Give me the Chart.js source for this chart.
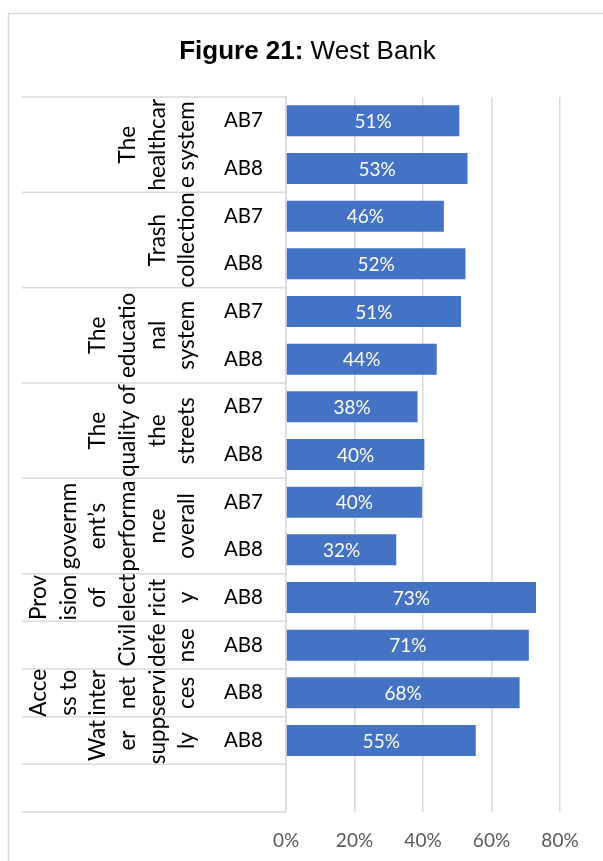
<!DOCTYPE html>
<html>
<head>
<meta charset="utf-8">
<script src="https://cdn.jsdelivr.net/npm/chart.js@4/dist/chart.umd.min.js"></script>
<style>
  html, body { margin: 0; padding: 0; background: #ffffff; }
  #wrap { position: relative; width: 603px; height: 861px; }
  canvas { display: block; }
</style>
</head>
<body>
<div id="wrap"><canvas id="c" width="603" height="861"></canvas></div>
<script>
// ---------- data ----------
const titleBold = 'Figure 21:';
const titleRest = ' West Bank';
const subLabels = ['AB7','AB8','AB7','AB8','AB7','AB8','AB7','AB8','AB7','AB8','AB8','AB8','AB8','AB8',''];
const values = [50.6, 53.0, 46.1, 52.4, 51.1, 44.0, 38.4, 40.4, 39.7, 32.2, 73.0, 70.9, 68.2, 55.4, null];
const groupSizes = [2, 2, 2, 2, 2, 1, 1, 1, 1, 1];
const groupLines = [
  ['The', 'healthcar', 'e system'],
  ['Trash', 'collection'],
  ['The', 'educatio', 'nal', 'system'],
  ['The', 'quality of', 'the', 'streets'],
  ['governm', 'ent\u2019s', 'performa', 'nce', 'overall'],
  ['Prov', 'ision', 'of', 'elect', 'ricit', 'y'],
  ['Civil', 'defe', 'nse'],
  ['Acce', 'ss to', 'inter', 'net', 'servi', 'ces'],
  ['Wat', 'er', 'supp', 'ly'],
  []
];
const xTicks = [0, 20, 40, 60, 80];

// ---------- style ----------
const LABEL_FONT = 'Lato, "Noto Sans", sans-serif';
const GRID = '#d9d9d9';
const BAR = '#4472C4';

const tablePlugin = {
  id: 'tablePlugin',
  beforeDraw(chart) {
    const ctx = chart.ctx;
    ctx.save();
    // chart frame
    ctx.strokeStyle = GRID;
    ctx.lineWidth = 1.5;
    ctx.beginPath();
    ctx.moveTo(8.5, 900);
    ctx.lineTo(8.5, 13.5);
    ctx.lineTo(700, 13.5);
    ctx.stroke();
    // title
    ctx.fillStyle = '#000000';
    ctx.textBaseline = 'alphabetic';
    ctx.font = 'bold 26px "Liberation Sans", Arial, sans-serif';
    const w1 = ctx.measureText(titleBold).width;
    ctx.font = '26px "Liberation Sans", Arial, sans-serif';
    const w2 = ctx.measureText(titleRest).width;
    const x0 = 307.5 - (w1 + w2) / 2;
    ctx.textAlign = 'left';
    ctx.font = 'bold 26px "Liberation Sans", Arial, sans-serif';
    ctx.fillText(titleBold, x0, 58.5);
    ctx.font = '26px "Liberation Sans", Arial, sans-serif';
    ctx.fillText(titleRest, x0 + w1, 58.5);
    ctx.restore();
  },
  afterDraw(chart) {
    const ctx = chart.ctx;
    const ys = chart.scales.y;
    const half = (ys.getPixelForValue(1) - ys.getPixelForValue(0)) / 2;
    const left = ys.left;
    const right = ys.right;
    ctx.save();
    ctx.strokeStyle = GRID;
    ctx.lineWidth = 1.5;
    let idx = 0;
    const top = ys.getPixelForValue(0) - half;
    ctx.beginPath();
    ctx.moveTo(left, top);
    ctx.lineTo(right, top);
    ctx.stroke();
    ctx.fillStyle = '#000000';
    ctx.font = '22.5px ' + LABEL_FONT;
    ctx.textAlign = 'center';
    ctx.textBaseline = 'middle';
    const spacing = 29.6;
    const lastX = 187;
    groupSizes.forEach((size, g) => {
      const yTop = ys.getPixelForValue(idx) - half;
      const yBot = ys.getPixelForValue(idx + size - 1) + half;
      ctx.beginPath();
      ctx.moveTo(left, yBot);
      ctx.lineTo(right, yBot);
      ctx.stroke();
      const lines = groupLines[g];
      const n = lines.length;
      const yc = (yTop + yBot) / 2;
      lines.forEach((t, i) => {
        const x = lastX - (n - 1 - i) * spacing;
        ctx.save();
        ctx.translate(x, yc);
        ctx.rotate(-Math.PI / 2);
        ctx.fillText(t, 0, 0);
        ctx.restore();
      });
      idx += size;
    });
    ctx.restore();
  },
  afterDatasetsDraw(chart) {
    const ctx = chart.ctx;
    const meta = chart.getDatasetMeta(0);
    ctx.save();
    ctx.fillStyle = '#ffffff';
    ctx.font = '19px ' + LABEL_FONT;
    ctx.textAlign = 'center';
    ctx.textBaseline = 'middle';
    meta.data.forEach((bar, i) => {
      const v = values[i];
      if (v === null || v === undefined) return;
      const cx = (bar.x + bar.base) / 2;
      ctx.fillText(Math.round(v) + '%', cx, bar.y + 1);
    });
    ctx.restore();
  }
};

new Chart(document.getElementById('c'), {
  type: 'bar',
  data: {
    labels: subLabels,
    datasets: [{
      data: values,
      backgroundColor: BAR,
      borderWidth: 0,
      barPercentage: 0.65,
      categoryPercentage: 1.0
    }]
  },
  options: {
    indexAxis: 'y',
    responsive: false,
    animation: false,
    devicePixelRatio: 1,
    layout: { padding: { left: 22, right: 43, top: 97, bottom: 0 } },
    plugins: {
      legend: { display: false },
      title: { display: false },
      tooltip: { enabled: false }
    },
    scales: {
      x: {
        type: 'linear',
        min: xTicks[0],
        max: xTicks[xTicks.length - 1],
        afterBuildTicks(scale) { scale.ticks = xTicks.map(v => ({ value: v })); },
        afterFit(scale) { scale.height = 49; },
        grid: { color: GRID, lineWidth: 1.5, drawTicks: false },
        border: { display: false },
        ticks: {
          padding: 17,
          color: '#595959',
          font: { family: LABEL_FONT, size: 19 },
          callback: v => v + '%',
          maxRotation: 0,
          autoSkip: false
        }
      },
      y: {
        type: 'category',
        afterFit(scale) { scale.width = 264; },
        grid: { display: false, drawTicks: false },
        border: { display: true, color: GRID, width: 1.5 },
        ticks: {
          padding: 23,
          color: '#000000',
          font: { family: LABEL_FONT, size: 20.5 },
          autoSkip: false
        }
      }
    }
  },
  plugins: [tablePlugin]
});
</script>
</body>
</html>
